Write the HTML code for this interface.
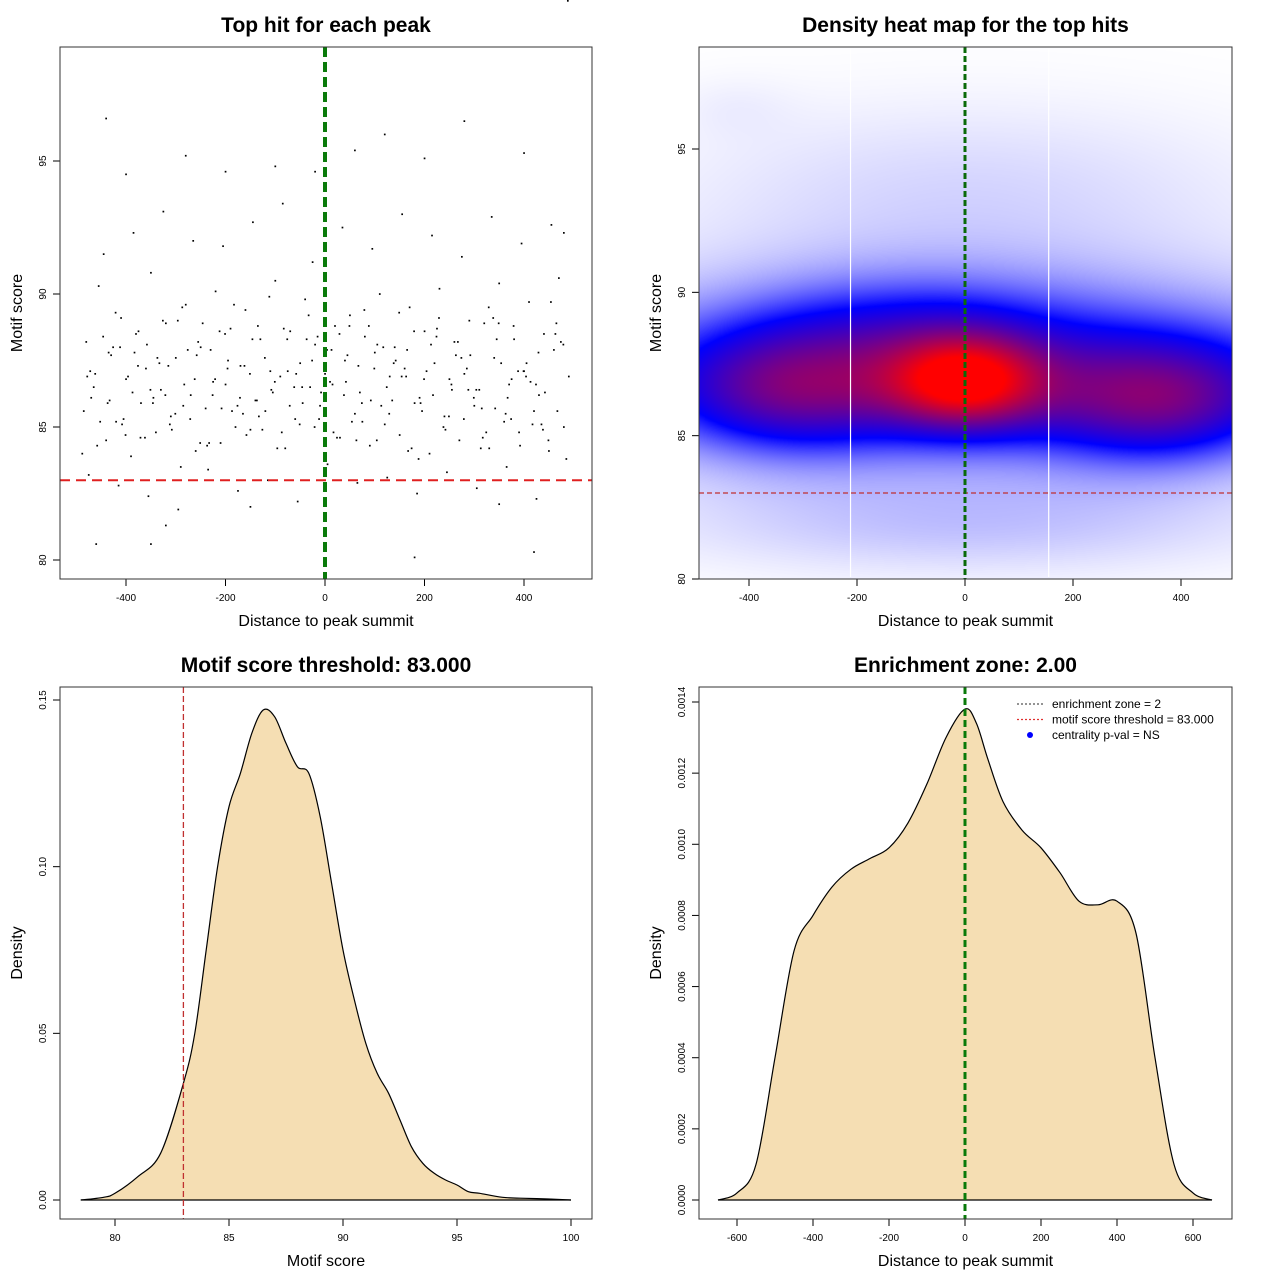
<!DOCTYPE html>
<html><head><meta charset="utf-8"><style>
body{margin:0;background:#fff;width:1280px;height:1280px;overflow:hidden;position:relative;font-family:"Liberation Sans",sans-serif}
svg{position:absolute;left:0;top:0}
canvas{position:absolute}
</style></head><body>
<canvas id="heat" width="533" height="532" style="left:699px;top:47px"></canvas>
<svg id="s" width="1280" height="1280"></svg>
<script>
// ---------- data ----------
const scatterX=[-480,-470,-455,-440,-430,-420,-410,-400,-390,-380,-370,-360,-350,-340,-330,-320,-310,-300,-290,-280,-270,-260,-250,-240,-230,-220,-210,-200,-190,-180,-170,-160,-150,-140,-130,-120,-110,-100,-90,-80,-70,-60,-50,-40,-30,-20,-10,0,10,20,30,40,50,60,70,80,90,100,110,120,130,140,150,160,170,180,190,200,210,220,230,240,250,260,270,280,290,300,310,320,330,340,350,360,370,380,390,400,410,420,430,440,450,460,470,480,490,
-475,-445,-415,-385,-355,-325,-295,-265,-235,-205,-175,-145,-115,-85,-55,-25,5,35,65,95,125,155,185,215,245,275,305,335,365,395,425,455,485,
-465,-435,-405,-375,-345,-315,-285,-255,-225,-195,-165,-135,-105,-75,-45,-15,15,45,75,105,135,165,195,225,255,285,315,345,375,405,435,465,
-460,-350,-320,-150,-100,-20,120,180,350,420,-440,-280,60,280,480,-400,-200,0,200,400,
-485,-472,-458,-446,-433,-421,-408,-396,-383,-371,-358,-346,-333,-321,-308,-296,-283,-271,-258,-246,-233,-221,-208,-196,-183,-171,-158,-146,-133,-121,-108,-96,-83,-71,-58,-46,-33,-21,-8,4,17,29,42,54,67,79,92,104,117,129,142,154,167,179,192,204,217,229,242,254,267,279,292,304,317,329,342,354,367,379,392,404,417,429,442,454,467,479,
-478,-452,-426,-401,-376,-351,-326,-301,-276,-251,-226,-201,-176,-151,-126,-101,-76,-51,-26,-1,24,49,74,99,124,149,174,199,224,249,274,299,324,349,374,399,424,449,474,
-488,-462,-437,-412,-387,-362,-337,-312,-287,-262,-237,-212,-187,-162,-137,-112,-87,-62,-37,-12,13,38,63,88,113,138,163,188,213,238,263,288,313,338,363,388,413,438,463,488];
const scatterY=[88.2,86.1,90.3,84.5,87.7,85.2,89.1,86.8,83.9,88.5,85.9,87.2,90.8,84.8,86.4,88.9,85.4,87.6,83.5,89.6,86.2,84.1,88.0,85.7,87.9,90.1,84.4,86.6,88.7,85.0,87.3,89.4,84.9,86.0,88.3,85.6,87.1,90.5,86.9,84.2,88.6,85.3,87.4,89.8,86.5,88.1,85.8,87.0,86.7,88.8,84.6,87.5,89.2,85.5,86.3,88.4,84.3,87.8,90.0,85.1,86.9,88.0,84.7,87.2,89.5,85.9,86.1,88.6,84.0,87.4,90.2,85.4,86.8,88.2,84.5,87.0,89.0,85.8,86.4,88.9,84.2,87.6,90.4,85.2,86.6,88.3,84.8,87.1,89.7,85.6,86.2,88.5,84.1,87.9,90.6,85.0,86.9,
83.2,91.5,82.8,92.3,82.4,93.1,81.9,92.0,83.4,91.8,82.6,92.7,83.0,93.4,82.2,91.2,83.6,92.5,82.9,91.7,83.1,93.0,82.5,92.2,83.3,91.4,82.7,92.9,83.5,91.9,82.3,92.6,83.8,
86.5,87.8,85.3,88.6,86.1,87.3,85.8,88.2,86.7,87.5,85.5,88.8,86.3,87.1,85.9,88.4,86.6,87.7,85.2,88.1,86.0,87.9,85.6,88.7,86.4,87.2,85.7,88.3,86.8,87.4,85.1,88.9,
80.6,80.6,81.3,82.0,94.8,94.6,96.0,80.1,82.1,80.3,96.6,95.2,95.4,96.5,92.3,94.5,94.6,93.9,95.1,95.3,
85.6,87.1,84.3,88.4,86.0,89.3,85.1,86.9,87.8,84.6,88.1,85.9,87.4,86.2,84.9,89.0,86.6,85.3,87.7,88.9,84.4,86.8,85.7,87.2,89.6,86.1,84.7,88.3,85.4,87.6,86.4,84.2,88.7,85.8,87.0,86.5,89.2,85.0,86.3,87.9,84.8,88.5,86.7,85.2,87.3,89.4,86.0,84.5,88.0,85.5,87.5,86.9,84.1,88.6,85.9,87.1,86.2,89.1,84.9,86.6,88.2,85.3,87.7,86.4,84.6,89.5,85.7,87.4,86.1,88.8,84.3,86.9,85.1,87.8,86.3,89.7,85.6,88.1,
86.9,85.2,88.0,84.7,87.3,86.4,89.0,85.5,87.9,84.4,86.2,88.5,85.8,87.0,84.9,86.7,88.3,85.1,87.5,86.0,84.6,88.8,85.9,87.2,86.5,89.3,84.2,86.8,88.4,85.4,87.6,86.1,84.8,88.9,85.3,87.1,86.6,84.5,88.2,
84.0,87.0,85.9,88.0,86.3,84.6,87.6,85.1,89.5,86.8,84.3,88.6,85.6,87.3,86.0,89.9,84.8,86.5,88.3,85.3,87.9,86.2,84.5,88.8,85.8,87.4,86.9,83.8,88.1,85.0,87.7,86.4,84.2,89.1,85.5,87.1,86.7,84.9,88.5];
const d1x=[78.5,79.5,80,81,82,83,83.5,84,84.5,85,85.5,86,86.5,87,87.5,88,88.5,89,89.5,90,90.5,91,91.5,92,92.5,93,93.5,94,94.5,95,95.5,96,97,98,99,100];
const d1y=[0,0.0008,0.002,0.007,0.014,0.035,0.05,0.075,0.1,0.118,0.128,0.14,0.147,0.145,0.137,0.13,0.128,0.115,0.095,0.075,0.06,0.047,0.038,0.032,0.024,0.016,0.011,0.008,0.006,0.0045,0.0025,0.002,0.0008,0.0005,0.0003,0];
const d2x=[-650,-600,-550,-500,-450,-400,-350,-300,-250,-200,-150,-100,-50,0,30,60,100,150,200,250,300,350,400,450,500,550,600,650];
const d2y=[0,0.00002,0.0001,0.0004,0.0007,0.0008,0.00088,0.00093,0.00096,0.00099,0.00106,0.00117,0.0013,0.00138,0.00134,0.00124,0.00112,0.00104,0.00099,0.00092,0.00084,0.00083,0.00084,0.00075,0.0004,0.0001,0.00002,0];
const blobX=[0,-320,360,0,0,0,-430,-100];
const blobY=[86.9,86.6,86.2,87.2,81.8,93.5,96.5,89.0];
const blobSX=[100,160,160,560,420,420,80,200];
const blobSY=[1.15,1.5,1.5,2.3,1.3,2.4,0.8,1.3];
const blobW=[0.6,0.36,0.4,0.43,0.12,0.1,0.03,0.12];
const xTicks1=[-400,-200,0,200,400], yTicks1=[80,85,90,95];
const xTicks3=[80,85,90,95,100], yTicks3=[0,0.05,0.10,0.15], yLab3=["0.00","0.05","0.10","0.15"];
const xTicks4=[-600,-400,-200,0,200,400,600], yTicks4=[0,0.0002,0.0004,0.0006,0.0008,0.001,0.0012,0.0014];
const yLab4=["0.0000","0.0002","0.0004","0.0006","0.0008","0.0010","0.0012","0.0014"];
const legendLabels=["enrichment zone = 2","motif score threshold = 83.000","centrality p-val = NS"];

// ---------- helpers ----------
const NS="http://www.w3.org/2000/svg", S=document.getElementById('s');
function mk(t,a,p){const e=document.createElementNS(NS,t);for(const k in a)e.setAttribute(k,a[k]);(p||S).appendChild(e);return e;}
function lin(d0,d1,r0,r1){return v=>r0+(v-d0)/(d1-d0)*(r1-r0);}
function panel(o){
  const g=mk('g',{});
  const t=mk('text',{x:(o.l+o.r)/2,y:o.t-15,'text-anchor':'middle','font-size':21,'font-weight':'bold'},g);t.textContent=o.title;
  
  const xl=mk('text',{x:(o.l+o.r)/2,y:o.b+47,'text-anchor':'middle','font-size':16},g);xl.textContent=o.xlab;
  
  const yl=mk('text',{x:0,y:0,'text-anchor':'middle','font-size':16,transform:`translate(${o.l-38},${(o.t+o.b)/2}) rotate(-90)`},g);yl.textContent=o.ylab;
  
  const ax=mk('g',{stroke:'#000','stroke-width':1},g);
  o.xt.forEach((v,i)=>{const x=o.sx(v);mk('line',{x1:x,x2:x,y1:o.b,y2:o.b+7},ax);
    const tt=mk('text',{x:x,y:o.b+22,'text-anchor':'middle','font-size':10,stroke:'none'},ax);tt.textContent=o.xtl?o.xtl[i]:v;});
  mk('line',{x1:o.sx(o.xt[0]),x2:o.sx(o.xt[o.xt.length-1]),y1:o.b,y2:o.b},ax);
  const ay=mk('g',{stroke:'#000','stroke-width':1},g);
  o.yt.forEach((v,i)=>{const y=o.sy(v);mk('line',{x1:o.l-7,x2:o.l,y1:y,y2:y},ay);
    const tt=mk('text',{x:0,y:0,'text-anchor':'middle','font-size':10,stroke:'none',transform:`translate(${o.l-14},${y}) rotate(-90)`},ay);tt.textContent=o.ytl?o.ytl[i]:v;});
  mk('line',{x1:o.l,x2:o.l,y1:o.sy(o.yt[0]),y2:o.sy(o.yt[o.yt.length-1])},ay);
  return g;
}
function box(o,g){const r=mk('rect',{x:o.l,y:o.t,width:o.r-o.l,height:o.b-o.t,fill:'none',stroke:'#333'},g);}

// ---------- panel 1 scatter ----------
const p1={l:60,r:592,t:47,b:579,name:'scatter-panel',title:'Top hit for each peak',xlab:'Distance to peak summit',ylab:'Motif score',xt:xTicks1,yt:yTicks1};
p1.sx=lin(0,400,325,524);p1.sy=lin(80,95,560,161);
const g1=panel(p1);
const dots=mk('g',{fill:'#000'},g1);
scatterX.forEach((x,i)=>{const c=mk('rect',{x:p1.sx(x)-0.8,y:p1.sy(scatterY[i])-0.8,width:1.7,height:1.7},dots);
  });
let l=mk('line',{x1:p1.l,x2:p1.r,y1:p1.sy(83),y2:p1.sy(83),stroke:'#e02020','stroke-width':2,'stroke-dasharray':'10,6'},g1);

l=mk('line',{x1:p1.sx(0),x2:p1.sx(0),y1:p1.t,y2:p1.b,stroke:'#0a7a0a','stroke-width':4,'stroke-dasharray':'10,5'},g1);

box(p1,g1);

// ---------- panel 2 heatmap ----------
const p2={l:699,r:1232,t:47,b:579,name:'heatmap-panel',title:'Density heat map for the top hits',xlab:'Distance to peak summit',ylab:'Motif score',xt:xTicks1,yt:yTicks1};
p2.sx=lin(0,400,965,1181);p2.sy=lin(80,95,579,149);
const g2=panel(p2);
(function(){const cv=document.getElementById('heat'),cx=cv.getContext('2d'),W=cv.width,H=cv.height;const im=cx.createImageData(W,H);
  for(let py=0;py<H;py++){const yv=80+(p2.t+py-579)/(149-579)*15;
    for(let px=0;px<W;px++){const xv=(p2.l+px-965)/216*400;let d=0;
      for(let k=0;k<blobX.length;k++){const a=(xv-blobX[k])/blobSX[k],b=(yv-blobY[k])/blobSY[k];d+=blobW[k]*Math.exp(-0.5*(a*a+b*b));}
      d=Math.min(1,d);let r,gg,bb;
      if(d<0.42){const t=Math.pow(d/0.42,1.3);r=255*(1-t);gg=255*(1-t);bb=255;}else{const t=Math.pow((d-0.42)/0.58,1.0);r=255*t;gg=0;bb=255*(1-t);}
      const i=(py*W+px)*4;im.data[i]=r;im.data[i+1]=gg;im.data[i+2]=bb;im.data[i+3]=255;}}
  cx.putImageData(im,0,0);})();
[-212,155].forEach(v=>{const w=mk('line',{x1:p2.sx(v),x2:p2.sx(v),y1:p2.t+2,y2:p2.b-2,stroke:'#fff','stroke-width':1.2},g2);
  });
l=mk('line',{x1:p2.l,x2:p2.r,y1:p2.sy(83),y2:p2.sy(83),stroke:'#c03030','stroke-width':1.3,'stroke-dasharray':'5,3'},g2);

l=mk('line',{x1:p2.sx(0),x2:p2.sx(0),y1:p2.t,y2:p2.b,stroke:'#0a6a0a','stroke-width':3,'stroke-dasharray':'6,3'},g2);

box(p2,g2);

// ---------- panel 3 density ----------
const p3={l:60,r:592,t:687,b:1219,name:'score-density-panel',title:'Motif score threshold: 83.000',xlab:'Motif score',ylab:'Density',xt:xTicks3,yt:yTicks3,ytl:yLab3};
p3.sx=lin(80,100,115,571);p3.sy=lin(0,0.15,1200,700);
const g3=panel(p3);
function area(o,g,xs,ys){const P=xs.map((x,i)=>[o.sx(x),o.sy(ys[i])]);
  let d='M'+P[0][0].toFixed(1)+','+P[0][1].toFixed(1);
  for(let i=0;i<P.length-1;i++){const p0=P[Math.max(0,i-1)],p1=P[i],p2=P[i+1],p3=P[Math.min(P.length-1,i+2)];
    const c1=[p1[0]+(p2[0]-p0[0])/6,p1[1]+(p2[1]-p0[1])/6],c2=[p2[0]-(p3[0]-p1[0])/6,p2[1]-(p3[1]-p1[1])/6];
    d+=` C${c1[0].toFixed(1)},${c1[1].toFixed(1)} ${c2[0].toFixed(1)},${c2[1].toFixed(1)} ${p2[0].toFixed(1)},${p2[1].toFixed(1)}`;}
  const base=o.sy(0);
  const f=mk('path',{d:d+` L${P[P.length-1][0]},${base} L${P[0][0]},${base}Z`,fill:'#f5deb3',stroke:'none'},g);
  
  const p=mk('path',{d:d,fill:'none',stroke:'#000','stroke-width':1.2},g);
  const b=mk('line',{x1:P[0][0],x2:P[P.length-1][0],y1:base,y2:base,stroke:'#000','stroke-width':1.2},g);}
area(p3,g3,d1x,d1y);
l=mk('line',{x1:p3.sx(83),x2:p3.sx(83),y1:p3.t,y2:p3.b,stroke:'#c03030','stroke-width':1.3,'stroke-dasharray':'6,3'},g3);

box(p3,g3);

// ---------- panel 4 density ----------
const p4={l:699,r:1232,t:687,b:1219,name:'distance-density-panel',title:'Enrichment zone: 2.00',xlab:'Distance to peak summit',ylab:'Density',xt:xTicks4,yt:yTicks4,ytl:yLab4};
p4.sx=lin(0,400,965,1117);p4.sy=lin(0,0.0014,1200,702);
const g4=panel(p4);
area(p4,g4,d2x,d2y);
l=mk('line',{x1:p4.sx(0),x2:p4.sx(0),y1:p4.t,y2:p4.b,stroke:'#0a7a0a','stroke-width':3,'stroke-dasharray':'7,4'},g4);

const lg=mk('g',{},g4);
const lcol=['#555','#e03030',null];
legendLabels.forEach((s,i)=>{const y=704+i*15.5;
  const e=mk('g',{},lg);
  if(lcol[i])mk('line',{x1:1017,x2:1043,y1:y,y2:y,stroke:lcol[i],'stroke-width':1.2,'stroke-dasharray':'2,2'},e);
  else mk('circle',{cx:1030,cy:y,r:3,fill:'#0000ff'},e);
  const t=mk('text',{x:1052,y:y+4,'font-size':12},e);t.textContent=s;});
box(p4,g4);
</script>
</body></html>
